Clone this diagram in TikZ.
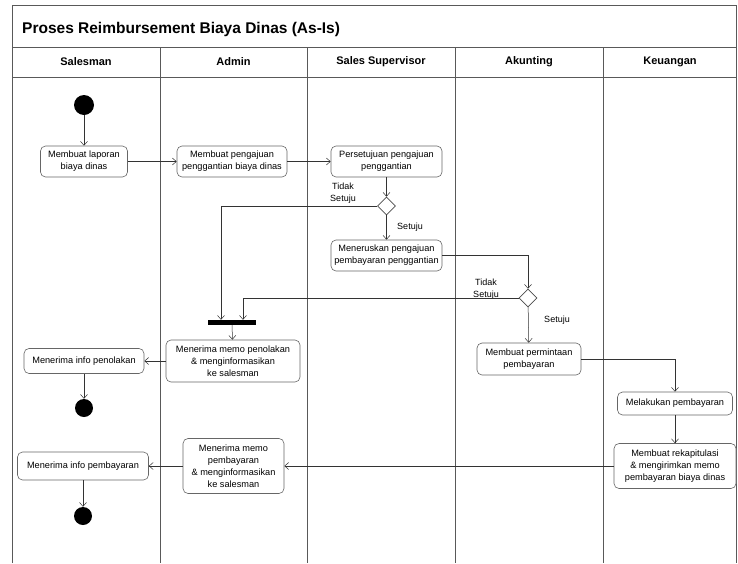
\documentclass[tikz,border=0pt]{standalone}
\usepackage{fontspec}
\setmainfont{Liberation Sans}
\usetikzlibrary{arrows.meta,shapes.geometric}
\begin{document}
\begin{tikzpicture}[x=1pt,y=-1pt,
 lane/.style={draw=black!65,line width=0.7pt},
 act/.style={draw=black!60,rounded corners=5pt,fill=white,align=center,font=\fontsize{9.2}{12}\selectfont,inner sep=1pt,line width=0.6pt},
 arr/.style={draw=black!80,line width=0.5pt,-{Straight Barb[length=4pt,width=7pt]}},
 dec/.style={draw=black!70,diamond,fill=white,minimum width=18pt,minimum height=18pt,inner sep=0pt,line width=0.6pt},
 ini/.style={circle,fill=black,minimum size=20pt,inner sep=0pt},
 fin/.style={circle,fill=black,minimum size=18pt,inner sep=0pt},
 lbl/.style={font=\fontsize{9}{12}\selectfont,align=center,inner sep=0pt},
 hdr/.style={font=\bfseries\fontsize{11}{13}\selectfont,inner sep=0pt}]
\useasboundingbox (0,0) rectangle (738,563);
% frame
\draw[lane] (12,563) -- (12,5) -- (736,5) -- (736,563);
\draw[lane] (12,47) -- (736,47);
\draw[lane] (12,77) -- (736,77);
\foreach \x in {160,307,455,603} \draw[lane] (\x,47) -- (\x,563);
\node[anchor=west,font=\bfseries\fontsize{15.5}{18}\selectfont,inner sep=0pt] (title) at (22,29) {Proses Reimbursement Biaya Dinas (As-Is)};
\node[hdr] (h1) at (86,62) {Salesman};
\node[hdr] (h2) at (233.5,62) {Admin};
\node[hdr] (h3) at (381,62) {Sales Supervisor};
\node[hdr] (h4) at (529,62) {Akunting};
\node[hdr] (h5) at (670,62) {Keuangan};
% nodes
\node[ini] (start) at (84,105) {};
\node[act,minimum width=87,minimum height=31] (a1) at (84,161.5) {Membuat laporan\\biaya dinas};
\node[act,minimum width=110,minimum height=31] (a2) at (232,161.5) {Membuat pengajuan\\penggantian biaya dinas};
\node[act,minimum width=111,minimum height=31] (a3) at (386.5,161.5) {Persetujuan pengajuan\\penggantian};
\node[dec] (d1) at (386.5,206) {};
\node[act,minimum width=111,minimum height=31] (a4) at (386.5,255.5) {Meneruskan pengajuan\\pembayaran penggantian};
\node[dec] (d2) at (528,298) {};
\node[fill=black,minimum width=48,minimum height=5,inner sep=0pt] (bar) at (232,322.5) {};
\node[act,minimum width=134,minimum height=42] (a5) at (233,361) {Menerima memo penolakan\\\& menginformasikan\\ke salesman};
\node[act,minimum width=120,minimum height=25] (a6) at (84,361) {Menerima info penolakan};
\node[fin] (end1) at (84,408) {};
\node[act,minimum width=104,minimum height=32] (a7) at (529,359) {Membuat permintaan\\pembayaran};
\node[act,minimum width=115,minimum height=23] (a8) at (675,403.5) {Melakukan pembayaran};
\node[act,minimum width=122,minimum height=45] (a9) at (675,466) {Membuat rekapitulasi\\\& mengirimkan memo\\pembayaran biaya dinas};
\node[act,minimum width=101,minimum height=55] (a10) at (233.5,466) {Menerima memo\\pembayaran\\\& menginformasikan\\ke salesman};
\node[act,minimum width=131,minimum height=28] (a11) at (83,466) {Menerima info pembayaran};
\node[fin] (end2) at (83,516) {};
% labels
\node[lbl] (l1) at (343,193.5) {Tidak\\Setuju};
\node[lbl] (l2) at (410,227) {Setuju};
\node[lbl] (l3) at (486,289) {Tidak\\Setuju};
\node[lbl] (l4) at (557,320) {Setuju};
% connectors
\draw[arr] (start) -- (a1);
\draw[arr] (a1) -- (a2);
\draw[arr] (a2) -- (a3);
\draw[arr] (a3) -- (d1);
\draw[arr] (d1) -- (a4);
\draw[arr] (d1.west) -| ([xshift=-11pt]bar.north);
\draw[arr] (a4.east) -| (d2.north);
\draw[arr] (d2.west) -| ([xshift=11pt]bar.north);
\draw[arr] (bar) -- (a5);
\draw[arr] (a5) -- (a6);
\draw[arr] (a6) -- (end1);
\draw[arr] (d2) -- (a7);
\draw[arr] (a7.east) -| (a8.north);
\draw[arr] (a8) -- (a9);
\draw[arr] (a9) -- (a10);
\draw[arr] (a10) -- (a11);
\draw[arr] (a11) -- (end2);
\end{tikzpicture}
\end{document}
